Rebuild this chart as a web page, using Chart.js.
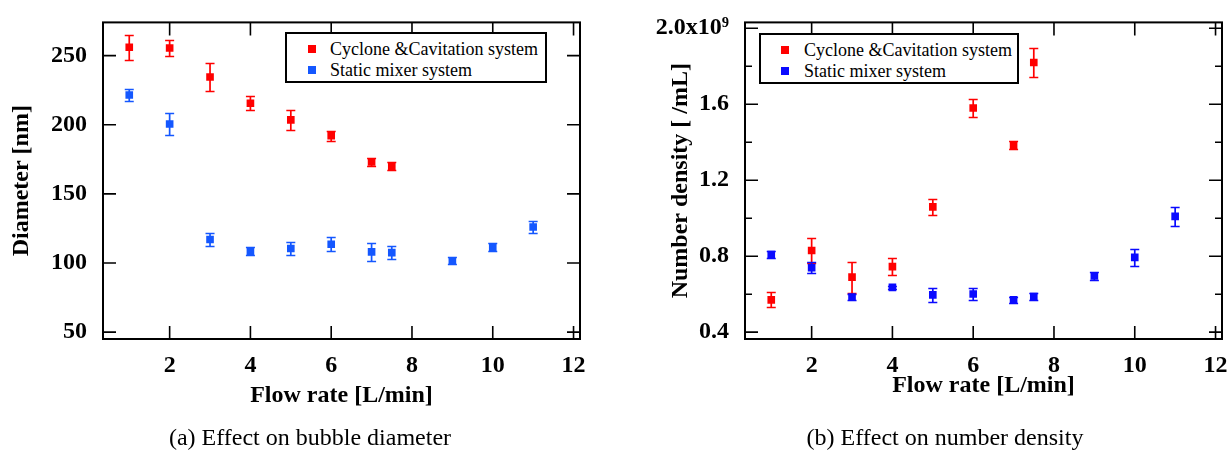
<!DOCTYPE html>
<html>
<head>
<meta charset="utf-8">
<script src="https://cdn.jsdelivr.net/npm/chart.js@4.4.0/dist/chart.umd.min.js"></script>
<style>
    html, body { margin: 0; padding: 0; background: #fff; }
    body {
        width: 1232px; height: 456px;
        position: relative; overflow: hidden;
        font-family: 'Liberation Serif', 'Times New Roman', serif;
        color: #000;
    }
    .panel { position: absolute; top: 0; height: 456px; }
    .legend {
        position: absolute; box-sizing: border-box;
        border: 2px solid #000; background: #fff;
        font-size: 18px;
    }
    .legend .row { position: absolute; left: 0; white-space: nowrap; height: 20px; line-height: 20px; }
    .legend .mark { position: absolute; width: 8px; height: 8px; top: 6px; }
    .legend .txt { position: absolute; top: 0; }
    .caption {
        position: absolute; top: 423px; height: 28px; line-height: 28px;
        font-size: 24px; text-align: center; white-space: nowrap;
    }
</style>
</head>
<body>
<div class="panel" style="left:0;width:620px"><canvas id="diam" width="620" height="456"></canvas></div>
<div class="panel" style="left:620px;width:612px"><canvas id="dens" width="612" height="456"></canvas></div>
<div class="caption" style="left:110px;width:400px">(a) Effect on bubble diameter</div>
<div class="caption" style="left:745px;width:400px">(b) Effect on number density</div>

<script>
// flow rates [L/min]
const cycloneFlow = [1, 2, 3, 4, 5, 6, 7, 7.5];
const mixerFlow = [1, 2, 3, 4, 5, 6, 7, 7.5, 9, 10, 11];

// (a) bubble diameter [nm] and error (+/-)
const cycloneDiameter = [256, 255.5, 234.5, 215.5, 203.5, 192, 173, 170];
const cycloneDiameterErr = [9, 5.5, 10, 5, 7, 3.5, 3, 3];
const mixerDiameter = [221.5, 200.5, 117, 108.5, 110.5, 113.5, 108, 107.5, 101.5, 111.5, 126];
const mixerDiameterErr = [4.5, 8, 4.5, 3, 4.5, 5, 6.3, 4.5, 2.5, 3.2, 4.3];

// (b) number density [x10^9 /mL] and error (+/-)
const cycloneDensity = [0.57, 0.83, 0.69, 0.745, 1.06, 1.58, 1.385, 1.82];
const cycloneDensityErr = [0.039, 0.067, 0.082, 0.045, 0.042, 0.047, 0.022, 0.075];
const mixerDensity = [0.808, 0.739, 0.585, 0.636, 0.596, 0.601, 0.57, 0.588, 0.696, 0.794, 1.01];
const mixerDensityErr = [0.018, 0.03, 0.015, 0.008, 0.037, 0.031, 0.015, 0.02, 0.02, 0.045, 0.05];

// ticks
const flowTicks = [2, 4, 6, 8, 10, 12];
const diameterTicks = [50, 100, 150, 200, 250];
const densityTicks = [0.4, 0.8, 1.2, 1.6, 2.0];
const densityMinorTicks = [0.6, 1.0, 1.4, 1.8];

const seriesLabels = ['Cyclone &Cavitation system', 'Static mixer system'];

const SERIF = "'Liberation Serif', 'Times New Roman', serif";
const tickFont = { family: SERIF, size: 24, weight: 'bold' };
const titleFont = { family: SERIF, size: 24, weight: 'bold', lineHeight: 1.2 };

// error bars, drawn under the markers
const errorBars = {
    id: 'errorBars',
    beforeDatasetsDraw(chart) {
        const { ctx, scales: { y } } = chart;
        chart.data.datasets.forEach((ds, i) => {
            const meta = chart.getDatasetMeta(i);
            ctx.save();
            ctx.strokeStyle = ds.backgroundColor;
            ctx.lineWidth = 1.7;
            meta.data.forEach((pt, j) => {
                const v = ds.data[j].y, e = ds.errors[j];
                const top = Math.round(y.getPixelForValue(v + e)) + 0.5;
                const bot = Math.round(y.getPixelForValue(v - e)) + 0.5;
                ctx.beginPath();
                ctx.moveTo(pt.x, top); ctx.lineTo(pt.x, bot);
                ctx.moveTo(pt.x - 4.5, top); ctx.lineTo(pt.x + 4.5, top);
                ctx.moveTo(pt.x - 4.5, bot); ctx.lineTo(pt.x + 4.5, bot);
                ctx.stroke();
            });
            ctx.restore();
        });
    }
};

// box frame with inward ticks on all four sides
const frameTicks = {
    id: 'frameTicks',
    afterDraw(chart, args, opts) {
        const { ctx, chartArea: { left, right, top, bottom }, scales: { x, y } } = chart;
        ctx.save();
        ctx.strokeStyle = '#000';
        ctx.lineWidth = 2;
        ctx.strokeRect(left, top, right - left, bottom - top);
        ctx.lineWidth = 1.6;
        ctx.beginPath();
        x.ticks.forEach(t => {
            const px = x.getPixelForValue(t.value);
            ctx.moveTo(px, bottom); ctx.lineTo(px, bottom - 13);
            ctx.moveTo(px, top); ctx.lineTo(px, top + 13);
        });
        y.ticks.forEach(t => {
            const py = y.getPixelForValue(t.value);
            ctx.moveTo(left, py); ctx.lineTo(left + 13, py);
            ctx.moveTo(right, py); ctx.lineTo(right - 13, py);
        });
        (opts.minor || []).forEach(v => {
            const py = y.getPixelForValue(v);
            ctx.moveTo(left, py); ctx.lineTo(left + 7, py);
            ctx.moveTo(right, py); ctx.lineTo(right - 7, py);
        });
        ctx.stroke();
        ctx.restore();
    }
};

function points(xs, ys) {
    return xs.map((x, i) => ({ x: x, y: ys[i] }));
}

function makeChart(id, cfg) {
    const datasets = cfg.series.map(s => ({
        label: s.label,
        data: points(s.x, s.y),
        errors: s.err,
        backgroundColor: s.color,
        borderColor: s.color,
        pointStyle: 'rect',
        pointRadius: 5.4,
        pointBorderWidth: 0,
        showLine: false
    }));

    const chart = new Chart(document.getElementById(id), {
        type: 'scatter',
        data: { datasets: datasets },
        options: {
            responsive: false,
            animation: false,
            events: [],
            layout: { padding: { top: 17, right: cfg.padRight, left: 0, bottom: 0 } },
            plugins: {
                legend: { display: false },
                tooltip: { enabled: false },
                frameTicks: { minor: cfg.minor }
            },
            scales: {
                x: {
                    type: 'linear',
                    min: 0.35,
                    max: 12.16,
                    grid: { display: false },
                    border: { display: false },
                    afterBuildTicks: s => { s.ticks = flowTicks.map(v => ({ value: v })); },
                    afterFit: s => { s.height = 117; },
                    ticks: { font: tickFont, color: '#000', padding: 4, maxRotation: 0 },
                    title: {
                        display: true, text: 'Flow rate [L/min]', font: titleFont, color: '#000',
                        padding: { top: 0, bottom: cfg.xTitlePad }
                    }
                },
                y: {
                    min: cfg.yMin,
                    max: cfg.yMax,
                    grid: { display: false },
                    border: { display: false },
                    afterBuildTicks: s => { s.ticks = cfg.yTicks.map(v => ({ value: v })); },
                    afterFit: s => { s.width = cfg.yWidth; },
                    ticks: { font: tickFont, color: '#000', padding: 8, callback: cfg.yLabel },
                    title: {
                        display: true, text: cfg.yTitle, font: titleFont, color: '#000',
                        padding: { top: cfg.yTitlePad, bottom: 0 }
                    }
                }
            }
        },
        plugins: [errorBars, frameTicks]
    });

    // boxed legend in the upper part of the plot
    const box = document.createElement('div');
    box.className = 'legend';
    box.style.left = cfg.legend.left + 'px';
    box.style.top = cfg.legend.top + 'px';
    box.style.width = cfg.legend.width + 'px';
    box.style.height = cfg.legend.height + 'px';
    datasets.forEach((ds, i) => {
        const row = document.createElement('div');
        row.className = 'row';
        row.style.top = (5 + i * 21) + 'px';
        row.innerHTML = '<span class="mark" style="left:' + cfg.legend.markX + 'px;background:' + ds.backgroundColor +
            '"></span><span class="txt" style="left:' + cfg.legend.textX + 'px"></span>';
        row.querySelector('.txt').textContent = ds.label;
        box.appendChild(row);
    });
    document.getElementById(id).parentNode.appendChild(box);
    return chart;
}

makeChart('diam', {
    series: [
        { label: seriesLabels[0], x: cycloneFlow, y: cycloneDiameter, err: cycloneDiameterErr, color: '#ff0000' },
        { label: seriesLabels[1], x: mixerFlow, y: mixerDiameter, err: mixerDiameterErr, color: '#1457ff' }
    ],
    yMin: 45, yMax: 274,
    yTicks: diameterTicks,
    yLabel: v => String(v),
    yTitle: 'Diameter [nm]',
    yWidth: 103, yTitlePad: 7,
    xTitlePad: 46,
    padRight: 40,
    minor: [],
    legend: { left: 285, top: 32, width: 262, height: 51, markX: 21, textX: 43 }
});

makeChart('dens', {
    series: [
        { label: seriesLabels[0], x: cycloneFlow, y: cycloneDensity, err: cycloneDensityErr, color: '#ff0000' },
        { label: seriesLabels[1], x: mixerFlow, y: mixerDensity, err: mixerDensityErr, color: '#0a0aff' }
    ],
    yMin: 0.364, yMax: 2.031,
    yTicks: densityTicks,
    yLabel: v => (v >= 2 ? v.toFixed(1) + 'x10\u2079' : v.toFixed(1)),
    yTitle: 'Number density [ /mL]',
    yWidth: 125, yTitlePad: 46,
    xTitlePad: 56,
    padRight: 10,
    minor: densityMinorTicks,
    legend: { left: 139, top: 33, width: 260, height: 51, markX: 20, textX: 43 }
});
</script>
</body>
</html>
